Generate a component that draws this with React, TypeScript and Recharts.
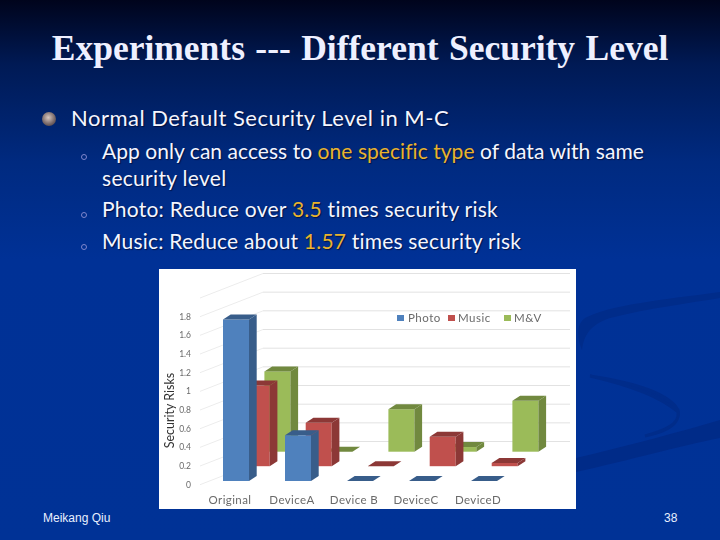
import React from 'react';
import { BarChart, Bar, XAxis, YAxis, CartesianGrid, Legend } from 'recharts';

const categories = ['Original', 'DeviceA', 'Device B', 'DeviceC', 'DeviceD'];
const photo = [1.73, 0.49, 0, 0, 0];
const music = [0.865, 0.465, 0, 0.315, 0.035];
const mv = [0.86, 0, 0.455, 0.05, 0.545];
const yTicks = [0, 0.2, 0.4, 0.6, 0.8, 1, 1.2, 1.4, 1.6, 1.8, 2];
const legendItems = [
  { name: 'Photo', color: '#4f81bd', box: 239, text: 250 },
  { name: 'Music', color: '#c0504d', box: 290, text: 300 },
  { name: 'M&V', color: '#9bbb59', box: 346, text: 356 },
];
const chartData = categories.map((category, i) => ({ category, photo: photo[i], music: music[i], mv: mv[i] }));

const DX = 7.7, DY = 5;

function bar3d(shiftX: number, shiftY: number, front: string, top: string, side: string) {
  return (p: any) => {
    const x = p.x + shiftX;
    const y = p.y + shiftY;
    const w = p.width;
    const h = p.height;
    return (
      <g>
        <rect x={x} y={y} width={w} height={h} fill={front} />
        <polygon points={`${x},${y} ${x + DX},${y - DY} ${x + w + DX},${y - DY} ${x + w},${y}`} fill={top} />
        <polygon points={`${x + w},${y} ${x + w + DX},${y - DY} ${x + w + DX},${y + h - DY} ${x + w},${y + h}`} fill={side} />
      </g>
    );
  };
}

function gridLine(p: any) {
  const y = p.y1;
  return (
    <g key={p.key}>
      <line x1={42} y1={y} x2={105} y2={y - 24.5} stroke="#ececec" strokeWidth={1} />
      {y < 210 && <line x1={105} y1={y - 24.5} x2={412} y2={y - 24.5} stroke="#e2e2e2" strokeWidth={1} />}
    </g>
  );
}

function CatTick(p: any) {
  return (
    <text x={p.x - 6} y={p.y + 17} textAnchor="middle" fontFamily="Lato" fontSize={11.5} letterSpacing={0.4} fill="#6a6a6a">
      {p.payload.value}
    </text>
  );
}

function ChartLegend() {
  return (
    <div style={{ position: 'relative', width: 418, height: 14 }}>
      {legendItems.map((it) => (
        <React.Fragment key={it.name}>
          <span style={{ position: 'absolute', left: it.box, top: 3, width: 7, height: 6, background: it.color }} />
          <span style={{ position: 'absolute', left: it.text, top: 0, fontFamily: 'Lato', fontSize: 11.5, letterSpacing: 0.5, lineHeight: '12px', color: '#6a6a6a' }}>{it.name}</span>
        </React.Fragment>
      ))}
    </div>
  );
}

const lineStyle: React.CSSProperties = { position: 'absolute', whiteSpace: 'nowrap', fontFamily: 'Lato', color: '#f4f6ff', textShadow: '1px 1px 1px rgba(0,0,30,0.6)', lineHeight: '26px' };
const gold = { color: '#e8b32e' };
const ring = (top: number) => (
  <div style={{ position: 'absolute', left: 81, top, width: 4, height: 4, border: '1px solid #7f86cc', borderRadius: '50%' }} />
);

export default function App() {
  return (
    <div style={{ position: 'fixed', left: 0, top: 0, width: 720, height: 540, overflow: 'hidden', background: 'linear-gradient(180deg,#00041c 0%,#001a55 12%,#002a80 30%,#003196 48%,#003296 100%)' }}>
      <svg width={720} height={540} style={{ position: 'absolute', left: 0, top: 0 }}>
        <path d="M720 292 C660 300 610 305 585 318 C575 325 578 340 582 350 C584 335 590 325 610 318 C650 308 690 303 720 298 Z" fill="#002c8a" />
        <path d="M590 376 C630 382 668 392 678 410 C682 425 660 432 645 436 C665 432 680 425 678 412 C660 396 625 384 590 376 Z" fill="#002c8a" stroke="#002c8a" strokeWidth={3} />
        <path d="M576 458 C630 445 680 432 720 420 L720 438 C680 446 630 460 576 472 Z" fill="#002b88" />
      </svg>

      <div style={{ position: 'absolute', left: 0, width: 720, textAlign: 'center', top: 29, fontFamily: 'Liberation Serif', fontWeight: 700, fontSize: 35.5, lineHeight: '38px', color: '#eef0ff', whiteSpace: 'nowrap', wordSpacing: 1.5 }}>
        Experiments --- Different Security Level
      </div>

      <div style={{ position: 'absolute', left: 42, top: 112, width: 14, height: 14, borderRadius: '50%', background: 'radial-gradient(circle at 45% 40%,#d8c8c0 0%,#7a6a6a 55%,#332a33 100%)' }} />
      <div style={{ ...lineStyle, left: 71, top: 105, fontSize: 22, letterSpacing: 0.5 }}>Normal Default Security Level in M-C</div>
      {ring(154)}
      <div style={{ ...lineStyle, left: 102, top: 138, fontSize: 21, letterSpacing: 0.05 }}>App only can access to <span style={gold}>one specific type</span> of data with same</div>
      <div style={{ ...lineStyle, left: 102, top: 165, fontSize: 21, letterSpacing: 0.3 }}>security level</div>
      {ring(212)}
      <div style={{ ...lineStyle, left: 102, top: 196, fontSize: 21, letterSpacing: 0.25 }}>Photo: Reduce over <span style={gold}>3.5</span> times security risk</div>
      {ring(244)}
      <div style={{ ...lineStyle, left: 102, top: 228, fontSize: 21, letterSpacing: 0.2 }}>Music: Reduce about <span style={gold}>1.57</span> times security risk</div>

      <div style={{ position: 'absolute', left: 43, top: 511, fontFamily: 'Liberation Sans', fontSize: 12, lineHeight: '14px', color: '#e8f0ff' }}>Meikang Qiu</div>
      <div style={{ position: 'absolute', left: 664, top: 511, fontFamily: 'Liberation Sans', fontSize: 12, lineHeight: '14px', color: '#e8f0ff' }}>38</div>

      <div style={{ position: 'absolute', left: 159, top: 269, width: 417, height: 240, background: '#fff', overflow: 'hidden' }}>
        <div style={{ position: 'absolute', left: -1, top: -1, filter: 'blur(0.35px)' }}>
          <BarChart width={418} height={241} data={chartData} barSize={26} barGap={-26} barCategoryGap={0} margin={{ top: 30, right: 61, bottom: 0, left: 0 }}>
            <CartesianGrid vertical={false} horizontal={gridLine} />
            <XAxis dataKey="category" axisLine={false} tickLine={false} tickSize={0} interval={0} tick={CatTick} height={24.3} />
            <YAxis
              width={47}
              domain={[0, 2]}
              ticks={yTicks}
              axisLine={false}
              tickLine={false}
              tickSize={0}
              tickMargin={14}
              interval={0}
              tickFormatter={(v: number) => (v === 2 ? '' : String(v))}
              tick={{ fontFamily: 'Lato', fontSize: 8.5, fill: '#6a6a6a' }}
              label={{ value: 'Security Risks', angle: -90, position: 'insideLeft', offset: 12, dy: 57, style: { fontFamily: 'Lato', fontSize: 12.5, fill: '#333' } }}
            />
            <Legend verticalAlign="middle" content={ChartLegend} wrapperStyle={{ position: 'absolute', left: 0, top: 44, width: 418, bottom: 'auto' }} />
            <Bar dataKey="mv" name="M&V" isAnimationActive={false} shape={bar3d(41.4, -33, '#9bbb59', '#71893f', '#71893f')} />
            <Bar dataKey="music" name="Music" isAnimationActive={false} shape={bar3d(20.7, -18.5, '#c0504d', '#8c3836', '#8c3836')} />
            <Bar dataKey="photo" name="Photo" isAnimationActive={false} shape={bar3d(0, -3.7, '#4f81bd', '#385d8a', '#385d8a')} />
          </BarChart>
        </div>
      </div>
    </div>
  );
}
